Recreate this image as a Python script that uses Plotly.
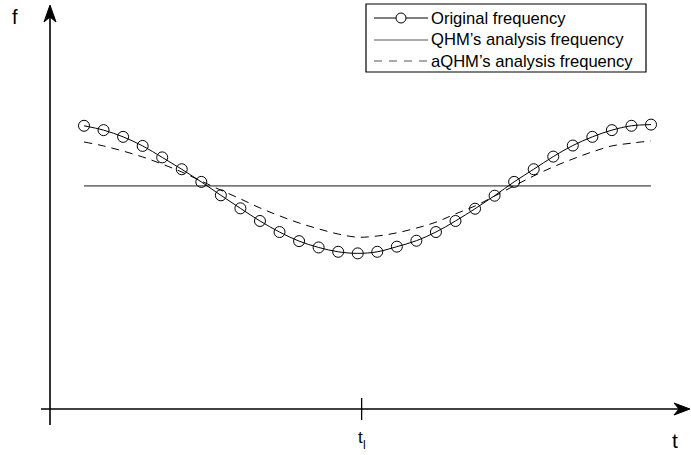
import plotly.graph_objects as go

# Sample index along the time axis
samples = list(range(1, 31))

# Instantaneous frequency of the signal (arbitrary units)
original_freq = [7.17, 7.06, 6.89, 6.66, 6.37, 6.07, 5.75, 5.41, 5.08, 4.76,
                 4.48, 4.25, 4.09, 3.98, 3.94, 3.98, 4.11, 4.26, 4.48, 4.76,
                 5.07, 5.40, 5.75, 6.07, 6.39, 6.67, 6.89, 7.06, 7.17, 7.20]

# QHM keeps a single analysis frequency over the window
qhm_samples = [1, 30]
qhm_freq = [5.65, 5.65]

# aQHM adapts its analysis frequency to the signal
aqhm_freq = [6.76, 6.66, 6.53, 6.38, 6.20, 6.00, 5.77, 5.54, 5.32, 5.09,
             4.89, 4.71, 4.56, 4.43, 4.35, 4.38, 4.46, 4.58, 4.73, 4.94,
             5.14, 5.39, 5.65, 5.90, 6.13, 6.33, 6.51, 6.66, 6.73, 6.79]

legend_labels = ["Original frequency", "QHM\u2019s analysis frequency",
                 "aQHM\u2019s analysis frequency"]
t_mark = 15.2

W, H = 691, 455
ML, MR, MT, MB = 50, 0, 5, 46
PW, PH = W - ML - MR, H - MT - MB
FONT = "Arial, Liberation Sans, sans-serif"


def px_x(px):
    return (px - ML) / PW


def px_y(py):
    return (H - MB - py) / PH


fig = go.Figure()

fig.add_trace(go.Scatter(
    x=qhm_samples, y=qhm_freq, mode="lines",
    line=dict(color="#7a7a7a", width=1.6), showlegend=False))

fig.add_trace(go.Scatter(
    x=samples, y=aqhm_freq, mode="lines",
    line=dict(color="black", width=1, dash="8px,6px", shape="spline"),
    showlegend=False))

fig.add_trace(go.Scatter(
    x=samples, y=original_freq, mode="lines+markers",
    line=dict(color="black", width=1, shape="spline"),
    marker=dict(symbol="circle-open", size=11, color="black",
                line=dict(width=1, color="black")),
    showlegend=False))

shapes = []
# axis lines
shapes.append(dict(type="line", xref="paper", yref="paper",
                   x0=0, x1=0, y0=px_y(425), y1=px_y(16),
                   line=dict(color="black", width=1.6)))
shapes.append(dict(type="line", xref="paper", yref="paper",
                   x0=px_x(41), x1=px_x(680), y0=0, y1=0,
                   line=dict(color="black", width=1.6)))
# arrow heads
shapes.append(dict(type="path", xref="paper", yref="paper",
                   xsizemode="pixel", ysizemode="pixel",
                   xanchor=0, yanchor=1,
                   path="M0,0 L-6,-17 L0,-12 L6,-17 Z",
                   fillcolor="black", line=dict(color="black", width=1)))
shapes.append(dict(type="path", xref="paper", yref="paper",
                   xsizemode="pixel", ysizemode="pixel",
                   xanchor=1, yanchor=0,
                   path="M-1,0 L-17,6 L-12,0 L-17,-6 Z",
                   fillcolor="black", line=dict(color="black", width=1)))
# tick at t_l
shapes.append(dict(type="line", xref="x", yref="paper",
                   ysizemode="pixel", yanchor=0,
                   x0=t_mark, x1=t_mark, y0=-11, y1=11,
                   line=dict(color="black", width=1.3)))

# legend box
shapes.append(dict(type="rect", xref="paper", yref="paper",
                   x0=px_x(366), x1=px_x(646), y0=px_y(72), y1=px_y(4),
                   line=dict(color="black", width=1.2), fillcolor="white",
                   layer="above"))
rows = [18, 40, 61]
shapes.append(dict(type="line", xref="paper", yref="paper",
                   x0=px_x(374), x1=px_x(428), y0=px_y(rows[0]), y1=px_y(rows[0]),
                   line=dict(color="black", width=1), layer="above"))
shapes.append(dict(type="circle", xref="paper", yref="paper",
                   xsizemode="pixel", ysizemode="pixel",
                   xanchor=px_x(401), yanchor=px_y(rows[0]),
                   x0=-5, x1=5, y0=-5, y1=5,
                   fillcolor="white", line=dict(color="black", width=1),
                   layer="above"))
shapes.append(dict(type="line", xref="paper", yref="paper",
                   x0=px_x(374), x1=px_x(428), y0=px_y(rows[1]), y1=px_y(rows[1]),
                   line=dict(color="#555555", width=1.2), layer="above"))
shapes.append(dict(type="line", xref="paper", yref="paper",
                   x0=px_x(374), x1=px_x(428), y0=px_y(rows[2]), y1=px_y(rows[2]),
                   line=dict(color="#555555", width=1.2, dash="8px,7px"),
                   layer="above"))

annotations = []
for label, r in zip(legend_labels, rows):
    annotations.append(dict(text=label, xref="paper", yref="paper",
                            x=px_x(429), y=px_y(r), xanchor="left",
                            yanchor="middle", showarrow=False,
                            font=dict(family=FONT, size=16.6, color="black")))
annotations.append(dict(text="f", xref="paper", yref="paper",
                        x=px_x(15), y=px_y(17), xanchor="center",
                        yanchor="middle", showarrow=False,
                        font=dict(family=FONT, size=20, color="black")))
annotations.append(dict(text="t", xref="paper", yref="paper",
                        x=px_x(675), y=px_y(440), xanchor="center",
                        yanchor="middle", showarrow=False,
                        font=dict(family=FONT, size=21, color="black")))
# t_l label: base letter plus a small subscript
annotations.append(dict(text="t", xref="x", yref="paper",
                        x=t_mark, y=px_y(437), xanchor="right",
                        xshift=3, yanchor="middle", showarrow=False,
                        font=dict(family=FONT, size=17, color="black")))
annotations.append(dict(text="l", xref="x", yref="paper",
                        x=t_mark, y=px_y(445), xanchor="left",
                        xshift=-1, yanchor="middle", showarrow=False,
                        font=dict(family=FONT, size=12, color="black")))

fig.update_layout(
    width=W, height=H,
    margin=dict(l=ML, r=MR, t=MT, b=MB),
    paper_bgcolor="white", plot_bgcolor="white",
    xaxis=dict(range=[1 - 34 / 19.552, 1 + (W - 84) / 19.552], visible=False),
    yaxis=dict(range=[0, PH / 39.5], visible=False),
    shapes=shapes, annotations=annotations,
    showlegend=False,
)

fig.write_html("out.html")
